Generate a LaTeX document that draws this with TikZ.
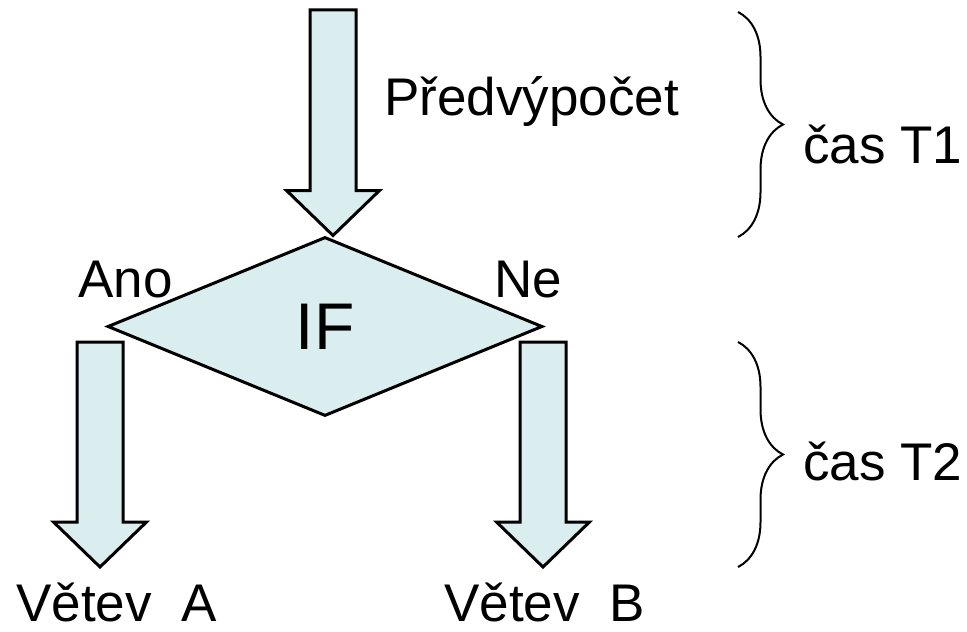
\documentclass[tikz,border=0pt]{standalone}
\usepackage{fontspec}
\setmainfont{Liberation Sans}
\usepackage{tikz}
\usetikzlibrary{shapes,arrows,positioning,calc,decorations.pathreplacing}
\definecolor{boxfill}{RGB}{218,237,239}
\tikzstyle{decision} = [draw, diamond, fill=boxfill, line width=1.5pt, minimum width=217.5pt, minimum height=89.5pt, inner sep=0pt, font=\fontsize{33}{38}\selectfont]
\tikzstyle{txt} = [inner sep=0pt, anchor=base west, font=\fontsize{26.5}{30}\selectfont]
\tikzstyle{blockarrow} = [draw, fill=boxfill, line width=1.5pt, line join=miter]
\tikzstyle{timebrace} = [draw, line width=1pt, decorate, decoration={brace, amplitude=22.5pt}]
\newcommand{\decision}[2]{node (d#1) [decision] {#2}}
\newcommand{\tlabel}[2]{node (t#1) [txt] {#2}}
\newcommand{\blockarrow}[2]{\path[blockarrow] let \p1=(#1), \p2=(#2) in (\x1-11.5pt,\y1) -- (\x1+11.5pt,\y1) -- (\x1+11.5pt,\y2+22.5pt) -- (\x1+23.25pt,\y2+22.5pt) -- (\x1,\y2) -- (\x1-23.25pt,\y2+22.5pt) -- (\x1-11.5pt,\y2+22.5pt) -- cycle;}
\begin{document}
\begin{tikzpicture}[x=0.5pt,y=-0.5pt]
\useasboundingbox (0,0) rectangle (967,631);
\path (325,326.5) \decision{1}{IF};

% pre-computation arrow
\coordinate (a1) at (333,10);
\blockarrow{a1}{d1.north}
\path (d1)+(59,-211.5) \tlabel{1}{Předvýpočet};

\path (d1)+(-247,-29.5) \tlabel{2}{Ano};
\path (d1)+(169,-29.5) \tlabel{3}{Ne};

% branch arrows
\coordinate (a2) at (100,342);
\coordinate (a3) at (100,567);
\blockarrow{a2}{a3}
\coordinate (a4) at (543,342);
\coordinate (a5) at (543,567);
\blockarrow{a4}{a5}
\path (d1)+(-309,294.5) \tlabel{4}{Větev~~A};
\path (d1)+(119,294.5) \tlabel{5}{Větev~~B};

% time braces
\coordinate (b1) at (738,12);
\coordinate (b2) at (738,237);
\path [timebrace] (b1) -- (b2);
\path (d1)+(478,-163.5) \tlabel{6}{čas T1};
\coordinate (b3) at (738,342);
\coordinate (b4) at (738,567);
\path [timebrace] (b3) -- (b4);
\path (d1)+(478,153.5) \tlabel{7}{čas T2};
\end{tikzpicture}
\end{document}
